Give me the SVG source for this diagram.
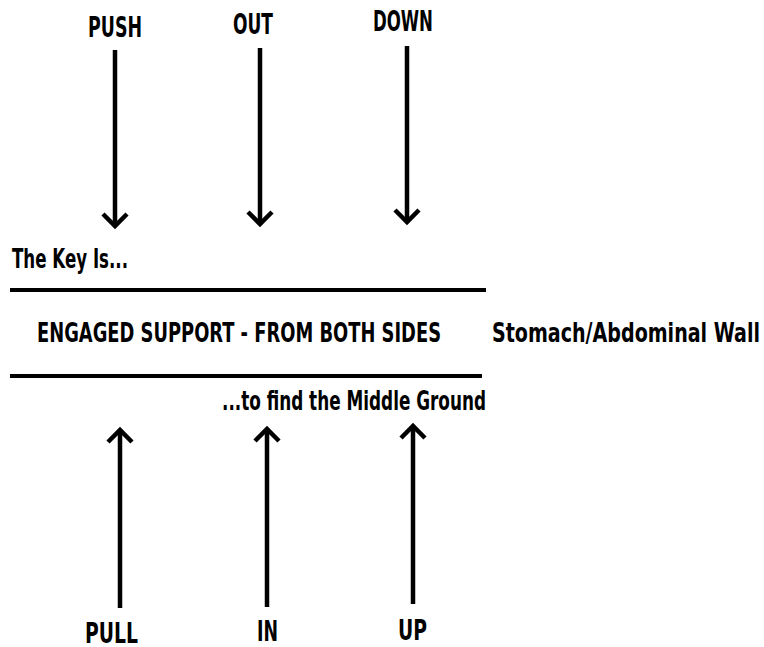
<svg xmlns="http://www.w3.org/2000/svg" width="764" height="647" viewBox="0 0 764 647">
<defs>
<style>
.t{font-family:"Liberation Sans Narrow","DejaVu Sans Condensed","Liberation Sans",sans-serif;font-weight:bold;fill:#000;}
.big{font-size:28px;}
.mid{font-size:27px;}
.a{stroke:#000;stroke-width:4.5;fill:none;}
.bar{stroke:#000;stroke-width:4;}
</style>
<marker id="head" markerUnits="userSpaceOnUse" markerWidth="32" markerHeight="32" viewBox="-16 -16 32 32" refX="0" refY="0" orient="auto">
<path d="M -12,-12 L 0,0 L -12,12" stroke="#000" stroke-width="4.5" fill="none"/>
</marker>
</defs>
<rect width="764" height="647" fill="#fff"/>
<g id="connectors">
<line class="a" x1="115" y1="50" x2="115" y2="226" marker-end="url(#head)"/>
<line class="a" x1="260" y1="48" x2="260" y2="224" marker-end="url(#head)"/>
<line class="a" x1="407" y1="46" x2="407" y2="222" marker-end="url(#head)"/>
<line class="a" x1="120" y1="608" x2="120" y2="430" marker-end="url(#head)"/>
<line class="a" x1="267" y1="607" x2="267" y2="429" marker-end="url(#head)"/>
<line class="a" x1="413" y1="604" x2="413" y2="426" marker-end="url(#head)"/>
</g>
<g id="wall">
<line class="bar" x1="10" y1="290" x2="486" y2="290"/>
<line class="bar" x1="10" y1="376" x2="482" y2="376"/>
</g>
<g id="push"><text class="t big" x="88" y="37" textLength="54" lengthAdjust="spacingAndGlyphs">PUSH</text></g>
<g id="out"><text class="t big" x="233" y="34" textLength="40" lengthAdjust="spacingAndGlyphs">OUT</text></g>
<g id="down"><text class="t big" x="373" y="31" textLength="60" lengthAdjust="spacingAndGlyphs">DOWN</text></g>
<g id="key"><text class="t mid" x="12" y="268" textLength="116" lengthAdjust="spacingAndGlyphs">The Key Is...</text></g>
<g id="support"><text class="t mid" x="37" y="342" textLength="404" lengthAdjust="spacingAndGlyphs">ENGAGED SUPPORT - FROM BOTH SIDES</text></g>
<g id="stomach"><text class="t mid" x="492" y="342" textLength="268" lengthAdjust="spacingAndGlyphs">Stomach/Abdominal Wall</text></g>
<g id="middle"><text class="t mid" x="222" y="410" textLength="264" lengthAdjust="spacingAndGlyphs">...to find the Middle Ground</text></g>
<g id="pull"><text class="t big" x="85" y="643" textLength="53" lengthAdjust="spacingAndGlyphs">PULL</text></g>
<g id="in"><text class="t big" x="257" y="641" textLength="21" lengthAdjust="spacingAndGlyphs">IN</text></g>
<g id="up"><text class="t big" x="398" y="640" textLength="29" lengthAdjust="spacingAndGlyphs">UP</text></g>
</svg>
